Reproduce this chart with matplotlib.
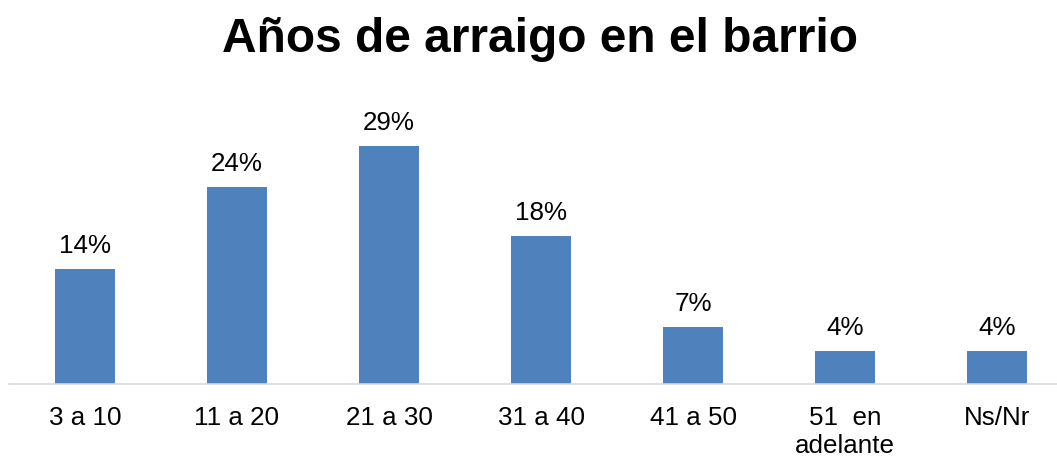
import matplotlib.pyplot as plt

plt.rcParams['font.family'] = ['Liberation Sans', 'DejaVu Sans']

categorias = ['3 a 10', '11 a 20', '21 a 30', '31 a 40', '41 a 50', '51  en\nadelante', 'Ns/Nr']
porcentajes = [14, 24, 29, 18, 7, 4, 4]
etiquetas = ['14%', '24%', '29%', '18%', '7%', '4%', '4%']

fig = plt.figure(figsize=(10.57, 4.57), dpi=100)
ax = fig.add_axes([9 / 1057, 1 - 384 / 457, 1064 / 1057, 287 / 457])

x = range(len(categorias))
bars = ax.bar(x, porcentajes, width=0.4, color='#4F81BD')

for b, txt in zip(bars, etiquetas):
    ax.annotate(txt, (b.get_x() + b.get_width() / 2, b.get_height()),
                xytext=(0, 11.5), textcoords='offset points',
                ha='center', va='baseline', fontsize=18.7)

ax.set_xlim(-0.5, len(categorias) - 0.5)
ax.set_ylim(0, 35)
ax.set_xticks(list(x))
ax.set_xticklabels(categorias, fontsize=18.7, linespacing=1.18)
ax.tick_params(axis='x', length=0, pad=16)
ax.set_yticks([])
for s in ['top', 'right', 'left']:
    ax.spines[s].set_visible(False)
ax.spines['bottom'].set_color('#D9D9D9')
ax.spines['bottom'].set_linewidth(1.2)

fig.text(540 / 1057, 1 - 40 / 457, 'Años de arraigo en el barrio',
         ha='center', va='center', fontsize=34.5, fontweight='bold')

fig.savefig('out.png', dpi=100)
